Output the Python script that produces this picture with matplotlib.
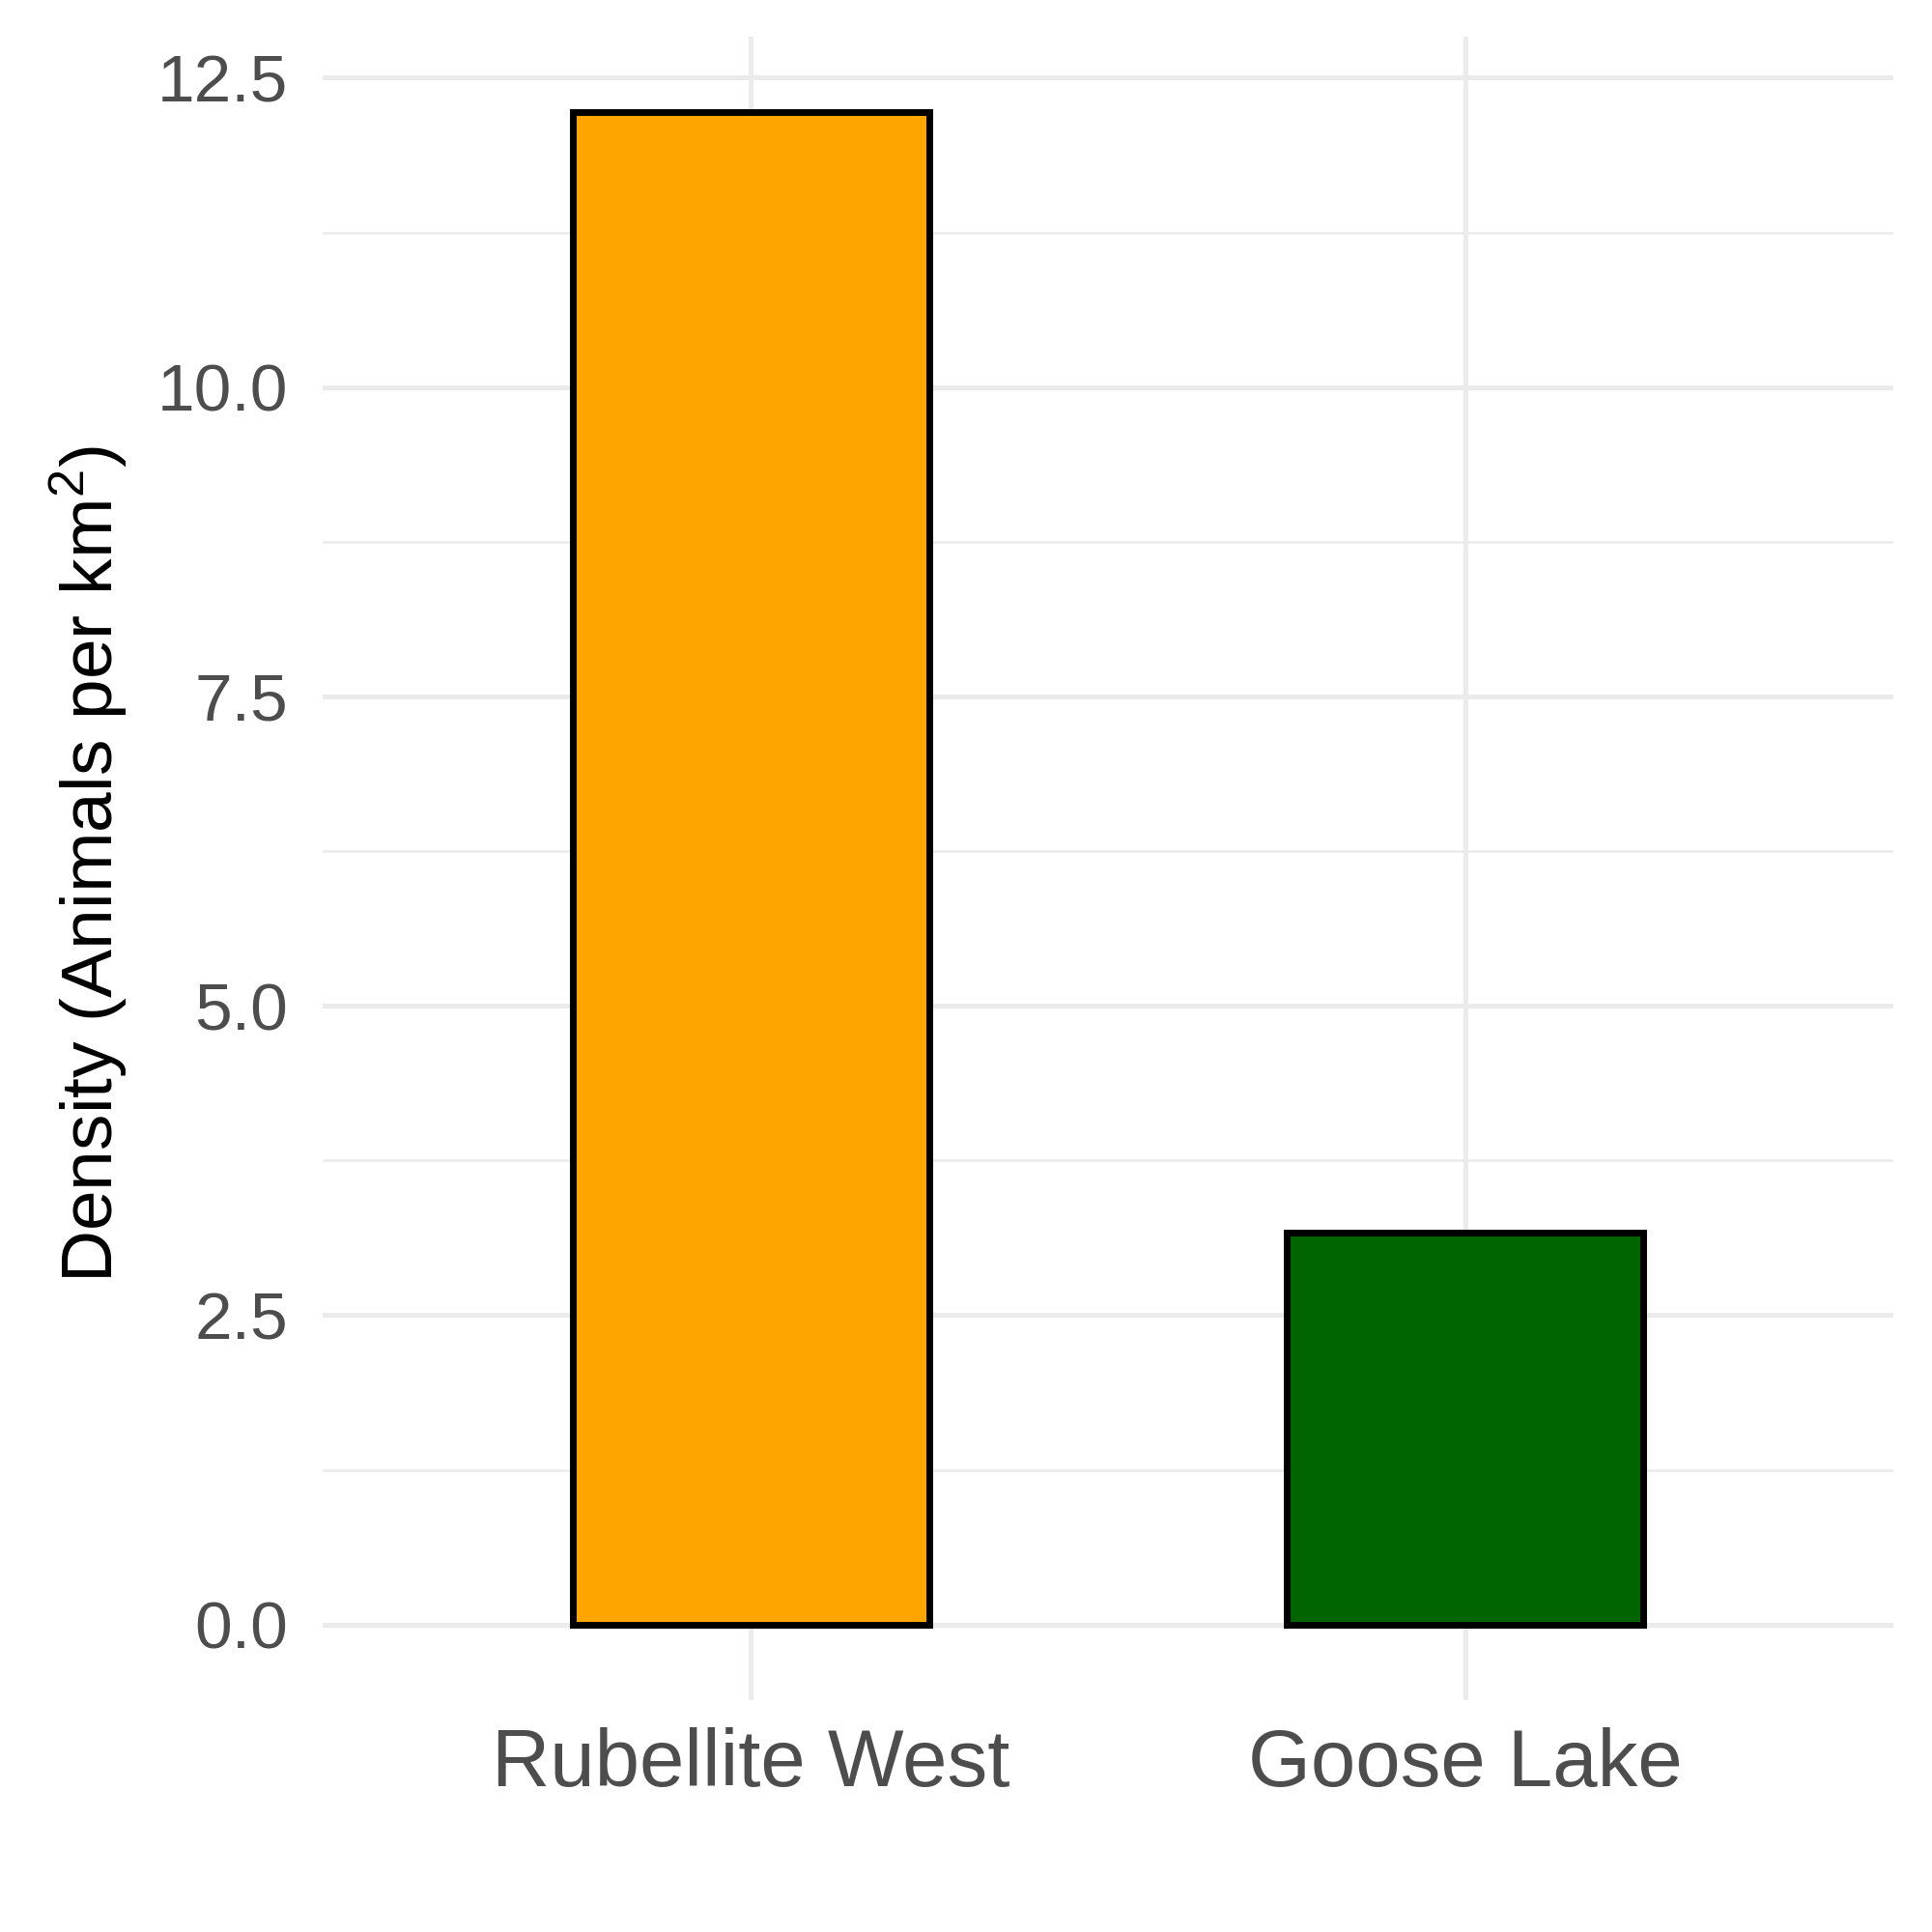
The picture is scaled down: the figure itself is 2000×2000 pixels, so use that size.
import numpy as np
import matplotlib.pyplot as plt

plt.rcParams['font.family'] = ['Liberation Sans', 'DejaVu Sans']
plt.rcParams['mathtext.fontset'] = 'custom'
plt.rcParams['mathtext.rm'] = 'Liberation Sans'

# data
sites = ['Rubellite West', 'Goose Lake']
density = [12.22, 3.17]
bar_colors = ['#FFA500', '#006400']
yticks = [0.0, 2.5, 5.0, 7.5, 10.0, 12.5]

fig = plt.figure(figsize=(10, 10), dpi=200)
ax = fig.add_axes([0.167, 0.12, 0.813, 0.861])

x = np.arange(1, len(sites) + 1)
ax.bar(x, density, width=0.5, color=bar_colors, edgecolor='black',
       linewidth=2.5, zorder=3)

# ggplot style expansion
ymax = max(density)
ax.set_xlim(0.4, len(sites) + 0.6)
ax.set_ylim(-0.05 * ymax, ymax * 1.05)

ax.set_xticks(x)
ax.set_xticklabels(sites)
ax.set_yticks(yticks)
ax.set_yticklabels([f'{v:.1f}' for v in yticks])
ax.set_yticks(np.arange(1.25, 12.6, 2.5), minor=True)

ax.grid(which='major', color='#EBEBEB', linewidth=1.8, zorder=0)
ax.grid(which='minor', axis='y', color='#EBEBEB', linewidth=0.9, zorder=0)
ax.set_axisbelow(True)

for s in ax.spines.values():
    s.set_visible(False)
ax.tick_params(axis='both', which='both', length=0)
ax.tick_params(axis='y', labelsize=25, labelcolor='#4D4D4D', pad=13)
ax.tick_params(axis='x', labelsize=30, labelcolor='#4D4D4D', pad=10)

fig.text(0.046, 0.553, r'Density (Animals per km$^{2}$)', rotation=90,
         ha='center', va='center', fontsize=27, color='black')

plt.savefig('out.png', dpi=200, facecolor='white')
